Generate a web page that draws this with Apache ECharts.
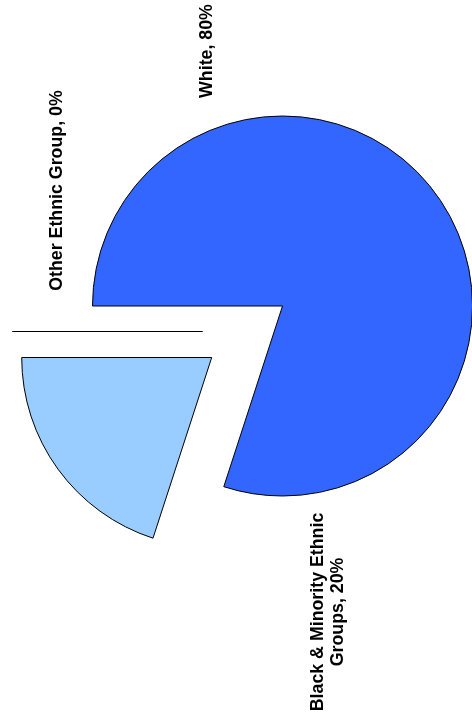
<!DOCTYPE html>
<html>
<head>
<meta charset="utf-8">
<script src="https://cdn.jsdelivr.net/npm/echarts@6/dist/echarts.min.js"></script>
<style>
html,body{margin:0;padding:0;background:#fff;}
#chart{width:472px;height:720px;}
</style>
</head>
<body>
<div id="chart"></div>
<script>
// ---- data ----
var categories = ['White', 'Black & Minority Ethnic\nGroups', 'Other Ethnic Group'];
var values = [80, 20, 0];

// ---- styles / layout ----
var sliceColors = ['#3366FF', '#99CCFF', '#FFFFFF'];
var labelPos = [[207.5, 51], [328, 612], [57.5, 190.5]];
// pie centre for each slice (exploded slices are drawn from shifted centres)
var sliceCenters = [[282.5, 306], [211.7, 357.5], [202.5, 331.5]];
var radius = 190;

function buildData(showIndex) {
  return categories.map(function (c, i) {
    var visible = (i === showIndex);
    return {
      name: c,
      value: values[i],
      itemStyle: visible ? { color: sliceColors[i], borderColor: '#000', borderWidth: 1 }
                         : { color: 'rgba(0,0,0,0)', borderColor: 'rgba(0,0,0,0)', borderWidth: 0 },
      label: { show: visible }
    };
  });
}

var labelStyle = {
  show: true,
  position: 'outside',
  formatter: '{b}, {d}%',
  color: '#000',
  fontWeight: 'bold',
  fontSize: 17.8,
  lineHeight: 20,
  fontFamily: '"Liberation Sans", Arial, sans-serif',
  align: 'center'
};

function layoutFn(params) {
  var p = labelPos[params.dataIndex];
  return { x: p[0], y: p[1], rotate: 90, align: 'center', verticalAlign: 'middle' };
}

var chart = echarts.init(document.getElementById('chart'), null, { renderer: 'canvas' });
chart.setOption({
  animation: false,
  backgroundColor: '#fff',
  series: categories.map(function (c, i) {
    return {
      type: 'pie',
      name: c,
      center: sliceCenters[i],
      radius: radius,
      startAngle: 180,
      clockwise: true,
      avoidLabelOverlap: false,
      silent: true,
      emphasis: { disabled: true },
      label: labelStyle,
      labelLine: { show: false },
      labelLayout: layoutFn,
      data: buildData(i)
    };
  })
});
</script>
</body>
</html>
